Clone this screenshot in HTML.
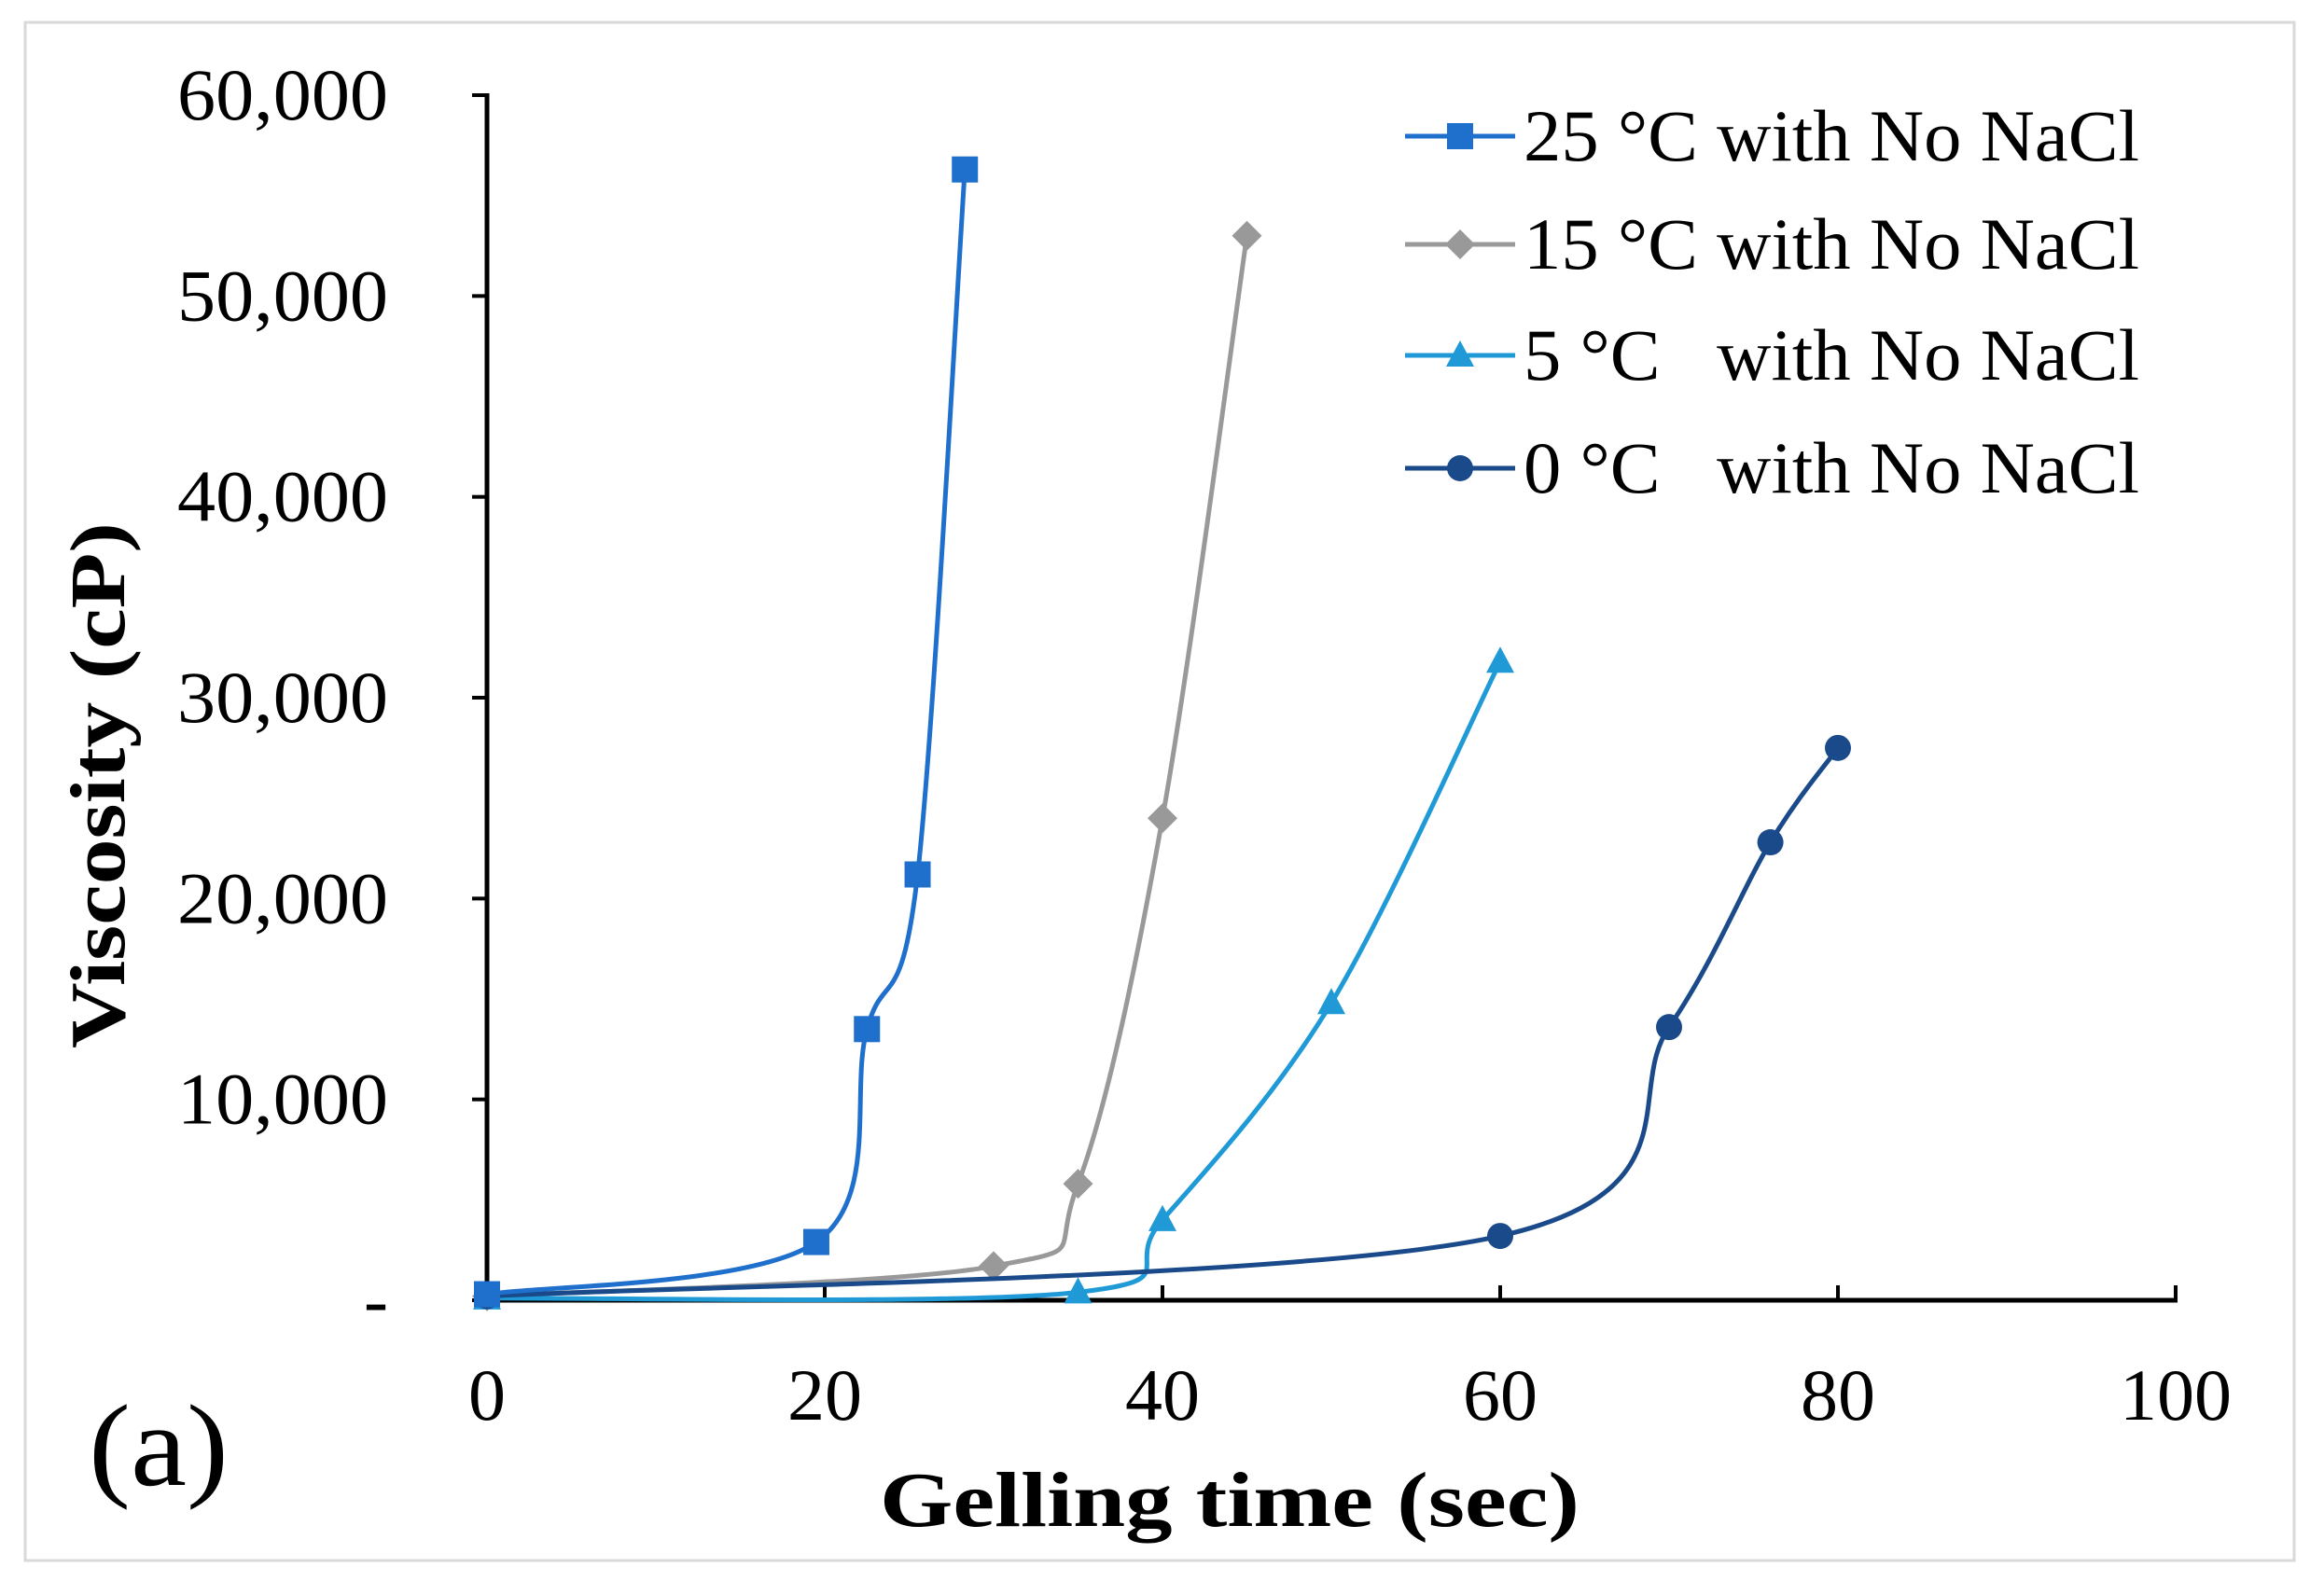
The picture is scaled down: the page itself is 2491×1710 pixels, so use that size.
<!DOCTYPE html>
<html><head><meta charset="utf-8"><style>
html,body{margin:0;padding:0;background:#fff;}
svg{display:block;}
text{font-family:"Liberation Serif",serif;fill:#000;}
</style></head><body>
<svg id="s" width="2491" height="1710" xmlns="http://www.w3.org/2000/svg">
<rect x="27" y="24" width="2432" height="1649" fill="#fff" stroke="#d9d9d9" stroke-width="3"/>
<g id="axes"></g>
<g id="series"></g>
<text x="95" y="1592" font-size="125" textLength="150" lengthAdjust="spacingAndGlyphs">(a)</text>
<text x="943" y="1636" font-size="84" font-weight="bold" textLength="750" lengthAdjust="spacingAndGlyphs">Gelling time (sec)</text>
<text transform="translate(133,842) rotate(-90)" font-size="84" font-weight="bold" text-anchor="middle" textLength="564" lengthAdjust="spacingAndGlyphs">Viscosity (cP)</text>
<g id="legend"></g>
</svg>
<script>
var NS="http://www.w3.org/2000/svg";
function X(v){return 522+v*18.1;}
function Y(v){return 1394-v*0.021533;}
function el(p,t,a,txt){var e=document.createElementNS(NS,t);for(var k in a)e.setAttribute(k,a[k]);if(txt!=null)e.textContent=txt;document.getElementById(p).appendChild(e);return e;}
el("axes","line",{x1:522,y1:100,x2:522,y2:1394,stroke:"#000","stroke-width":5});
el("axes","line",{x1:519,y1:1394,x2:2334,y2:1394,stroke:"#000","stroke-width":5});
var yl=["-","10,000","20,000","30,000","40,000","50,000","60,000"];
for(var i=0;i<=6;i++){var y=Y(i*10000);
 el("axes","line",{x1:506,y1:y,x2:522,y2:y,stroke:"#000","stroke-width":4});
 var a={x:416,y:y+26,"font-size":78,"text-anchor":"end"};
 if(i>0){a.textLength=226;a.lengthAdjust="spacingAndGlyphs";}
 el("axes","text",a,yl[i]);}
for(var i=0;i<=5;i++){var x=X(i*20);
 el("axes","line",{x1:x,y1:1378,x2:x,y2:1394,stroke:"#000","stroke-width":4});
 var s=String(i*20);var w=s.length*40;
 el("axes","text",{x:x-w/2,y:1522,"font-size":78,textLength:w,lengthAdjust:"spacingAndGlyphs"},s);}
var S=[
 {c:"#999999",m:"d",d:[[0,200],[30,1700],[35,5800],[40,24000],[45,53000]]},
 {c:"#1f9ad6",m:"t",d:[[0,100],[35,400],[40,4000],[50,14800],[60,31800]]},
 {c:"#1a4a8a",m:"c",d:[[0,200],[60,3200],[70,13600],[76,22800],[80,27500]]},
 {c:"#1f6fcc",m:"s",d:[[0,300],[19.5,2900],[22.5,13500],[25.5,21200],[28.3,56300]]}
];
function path(pts){var p=pts.map(function(a){return [X(a[0]),Y(a[1])];});var d="M"+p[0][0]+","+p[0][1];
 for(var i=0;i<p.length-1;i++){var p0=p[i-1]||p[i],p1=p[i],p2=p[i+1],p3=p[i+2]||p2;var t=6;
 d+=" C"+(p1[0]+(p2[0]-p0[0])/t)+","+(p1[1]+(p2[1]-p0[1])/t)+" "+(p2[0]-(p3[0]-p1[0])/t)+","+(p2[1]-(p3[1]-p1[1])/t)+" "+p2[0]+","+p2[1];}
 return d;}
function marker(g,m,x,y,c){var r=14;
 if(m=="s")el(g,"rect",{x:x-r,y:y-r,width:2*r,height:2*r,fill:c});
 else if(m=="c")el(g,"circle",{cx:x,cy:y,r:r,fill:c});
 else if(m=="d")el(g,"polygon",{points:(x)+","+(y-r-2)+" "+(x+r+2)+","+y+" "+x+","+(y+r+2)+" "+(x-r-2)+","+y,fill:c});
 else el(g,"polygon",{points:x+","+(y-r-2)+" "+(x+r+1)+","+(y+r-2)+" "+(x-r-1)+","+(y+r-2),fill:c});}
S.forEach(function(s){el("series","path",{d:path(s.d),fill:"none",stroke:s.c,"stroke-width":5});
 s.d.forEach(function(a){marker("series",s.m,X(a[0]),Y(a[1]),s.c);});});
var L=[["#1f6fcc","s","25 °C with No NaCl"],["#999999","d","15 °C with No NaCl"],["#1f9ad6","t","5 °C   with No NaCl"],["#1a4a8a","c","0 °C   with No NaCl"]];
var ly=[146,262,381,502];
L.forEach(function(l,i){var y=ly[i];el("legend","line",{x1:1506,y1:y,x2:1624,y2:y,stroke:l[0],"stroke-width":5});
 marker("legend",l[1],1565,y,l[0]);
 var t=el("legend","text",{x:1633,y:y+26,"font-size":78,textLength:660,lengthAdjust:"spacingAndGlyphs"},l[2]);t.setAttribute("xml:space","preserve");t.style.whiteSpace="pre";});
</script>
</body></html>
